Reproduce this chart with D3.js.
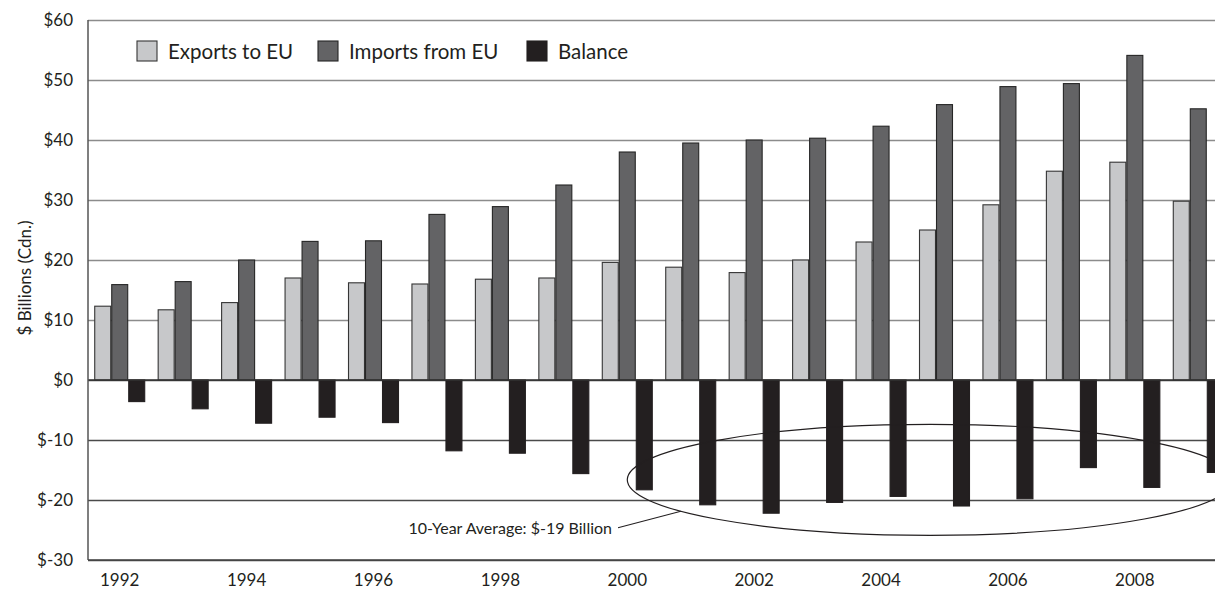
<!DOCTYPE html>
<html>
<head>
<meta charset="utf-8">
<script src="https://cdn.jsdelivr.net/npm/d3@7"></script>
<style>
  body { margin: 0; background: #fff; }
  svg { display: block; }
  text { font-family: Lato, "Noto Sans", sans-serif; fill: #231f20; }
</style>
</head>
<body>
<svg id="chart" width="1215" height="590"></svg>
<script>
// Canada–EU merchandise trade, $ billions (Cdn.)
const years = [1992, 1993, 1994, 1995, 1996, 1997, 1998, 1999, 2000,
               2001, 2002, 2003, 2004, 2005, 2006, 2007, 2008, 2009];
const exportsToEU = [12.3, 11.7, 12.9, 17.0, 16.2, 16.0, 16.8, 17.0, 19.6,
                     18.8, 17.9, 20.0, 23.0, 25.0, 29.2, 34.8, 36.3, 29.8];
const importsFromEU = [15.9, 16.4, 20.0, 23.1, 23.2, 27.6, 28.9, 32.5, 38.0,
                       39.5, 40.0, 40.3, 42.3, 45.9, 48.9, 49.4, 54.1, 45.2];
const balance = [-3.6, -4.8, -7.2, -6.2, -7.1, -11.8, -12.2, -15.6, -18.3,
                 -20.8, -22.2, -20.4, -19.4, -21.0, -19.8, -14.6, -17.9, -15.4];
const seriesNames = ["Exports to EU", "Imports from EU", "Balance"];
const yTicks = [-30, -20, -10, 0, 10, 20, 30, 40, 50, 60];
const xTickYears = [1992, 1994, 1996, 1998, 2000, 2002, 2004, 2006, 2008];
const averageYears = [2000, 2009];

const seriesValues = [exportsToEU, importsFromEU, balance];
const colors = ["#c7c8ca", "#636365", "#231f20"];
const strokes = ["#353535", "#262626", "#231f20"];

const svg = d3.select("#chart");
const plotLeft = 88, plotTop = 20, plotBottom = 560;
const rangeRight = 1230;

const x = d3.scaleBand().domain(years).range([plotLeft, rangeRight])
  .paddingInner(0.212).paddingOuter(0.106);
const x1 = d3.scaleBand().domain(seriesNames).range([0, x.bandwidth()]).paddingInner(0.06);
const y = d3.scaleLinear().domain([-30, 60]).range([plotBottom, plotTop]);

// gridlines + y tick labels
const yAxis = d3.axisLeft(y).tickValues(yTicks)
  .tickSize(-(rangeRight - plotLeft)).tickPadding(15)
  .tickFormat(d => "$" + d);
const gy = svg.append("g").attr("transform", `translate(${plotLeft},0)`).call(yAxis);
gy.select(".domain").remove();
gy.selectAll(".tick line")
  .attr("stroke", d => d > 0 ? "#8c8c8c" : "#4a4a4a")
  .attr("stroke-width", d => d > 0 ? 1.6 : 1.4);
gy.selectAll(".tick text").style("font-size", "17px").attr("fill", "#231f20");

// annotation ellipse around the last ten years of balances
const avgFrom = years.indexOf(averageYears[0]);
const avgTo = years.indexOf(averageYears[1]);
const avgValue = d3.mean(balance.slice(avgFrom, avgTo + 1));
const ex0 = x(averageYears[0]) + x.bandwidth() / 2;
const ex1 = rangeRight + 3;
const ecx = (ex0 + ex1) / 2, erx = (ex1 - ex0) / 2;
const eyTop = avgValue + 11.6, eyBot = avgValue - 6.9;
const ecy = (y(eyTop) + y(eyBot)) / 2, ery = (y(eyBot) - y(eyTop)) / 2;

// bars
const groups = svg.append("g").selectAll("g").data(years).join("g")
  .attr("transform", d => `translate(${x(d)},0)`);
groups.selectAll("rect")
  .data((d, i) => seriesNames.map((s, k) => ({ s, k, v: seriesValues[k][i] })))
  .join("rect")
  .attr("x", d => x1(d.s))
  .attr("width", x1.bandwidth())
  .attr("y", d => y(Math.max(0, d.v)))
  .attr("height", d => Math.abs(y(d.v) - y(0)))
  .attr("fill", d => colors[d.k])
  .attr("stroke", d => strokes[d.k])
  .attr("stroke-width", 1.1);

// zero line and frame
svg.append("line").attr("x1", plotLeft).attr("x2", rangeRight)
  .attr("y1", y(0)).attr("y2", y(0)).attr("stroke", "#333").attr("stroke-width", 1.5);
svg.append("line").attr("x1", plotLeft).attr("x2", plotLeft)
  .attr("y1", y(60)).attr("y2", y(-30)).attr("stroke", "#555").attr("stroke-width", 1.5);
svg.append("line").attr("x1", plotLeft).attr("x2", rangeRight)
  .attr("y1", y(-30)).attr("y2", y(-30)).attr("stroke", "#444").attr("stroke-width", 1.5);

svg.append("ellipse")
  .attr("cx", ecx).attr("cy", ecy).attr("rx", erx).attr("ry", ery)
  .attr("fill", "none").attr("stroke", "#231f20").attr("stroke-width", 1.2);

// leader line from label to the ellipse
const lx = ecx - erx * 0.823;
const ly = ecy + ery * Math.sqrt(1 - 0.823 * 0.823);
svg.append("line").attr("x1", 618).attr("y1", ly + 16.5).attr("x2", lx).attr("y2", ly)
  .attr("stroke", "#231f20").attr("stroke-width", 1.1);
svg.append("text").attr("x", 612).attr("y", ly + 23)
  .attr("text-anchor", "end").style("font-size", "16px")
  .text(`10-Year Average: $${Math.round(avgValue)} Billion`);

// x axis labels
const xAxis = d3.axisBottom(x).tickValues(xTickYears).tickSize(0).tickPadding(0);
const gx = svg.append("g").attr("transform", `translate(0,${plotBottom})`).call(xAxis);
gx.select(".domain").remove();
gx.selectAll(".tick text").style("font-size", "17px").attr("fill", "#231f20")
  .attr("dy", null).attr("y", 26);

// y axis title
svg.append("text")
  .attr("transform", "translate(31,278) rotate(-90)")
  .attr("text-anchor", "middle").style("font-size", "17px")
  .text("$ Billions (Cdn.)");

// legend
const legendX = [137, 318, 527];
const lg = svg.append("g").selectAll("g").data(seriesNames).join("g")
  .attr("transform", (d, i) => `translate(${legendX[i]},41)`);
lg.append("rect").attr("width", 20).attr("height", 20)
  .attr("fill", (d, i) => colors[i]).attr("stroke", (d, i) => strokes[i]).attr("stroke-width", 1.1);
lg.append("text").attr("x", 31).attr("y", 18).style("font-size", "20.5px").text(d => d);
</script>
</body>
</html>
